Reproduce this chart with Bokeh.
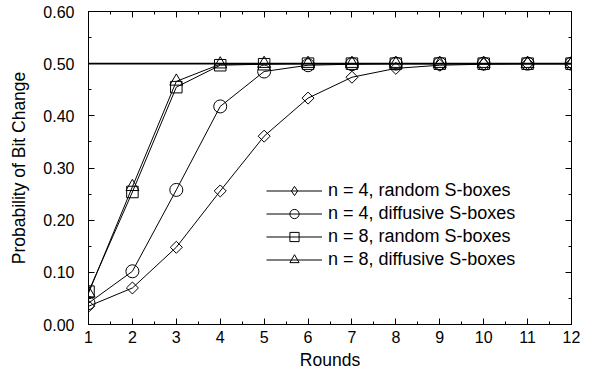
import math
from bokeh.plotting import figure
from bokeh.models import (FixedTicker, LinearAxis, Span, Legend, LegendItem,
                          PrintfTickFormatter, Range1d, ColumnDataSource)
from bokeh.embed import file_html
from bokeh.resources import INLINE

rounds = [1, 2, 3, 4, 5, 6, 7, 8, 9, 10, 11, 12]
n4_random = [0.035, 0.070, 0.148, 0.256, 0.361, 0.434, 0.474, 0.491, 0.497, 0.499, 0.500, 0.500]
n4_diffusive = [0.041, 0.102, 0.258, 0.418, 0.485, 0.497, 0.499, 0.500, 0.500, 0.500, 0.500, 0.500]
n8_random = [0.063, 0.254, 0.455, 0.497, 0.499, 0.500, 0.500, 0.500, 0.500, 0.500, 0.500, 0.500]
n8_diffusive = [0.060, 0.264, 0.466, 0.499, 0.500, 0.500, 0.500, 0.500, 0.500, 0.500, 0.500, 0.500]
labels = ["n = 4, random S-boxes", "n = 4, diffusive S-boxes",
          "n = 8, random S-boxes", "n = 8, diffusive S-boxes"]
y_ticks = [0.0, 0.1, 0.2, 0.3, 0.4, 0.5, 0.6]
y_minor = [0.05, 0.15, 0.25, 0.35, 0.45, 0.55]
x_minor = [r + 0.5 for r in rounds[:-1]]
reference = 0.5

FONT = "Liberation Sans"

p = figure(width=593, height=372, output_backend="svg", toolbar_location=None,
           x_range=Range1d(1, 12), y_range=Range1d(0, 0.6),
           min_border_left=88, min_border_right=22, min_border_top=11,
           min_border_bottom=48)
p.xgrid.visible = False
p.ygrid.visible = False
p.outline_line_color = "black"
p.outline_line_width = 1
p.background_fill_color = "white"
p.border_fill_color = "white"


def style_axis(ax):
    ax.axis_line_color = "black"
    ax.major_tick_line_color = "black"
    ax.minor_tick_line_color = "black"
    ax.major_tick_in = 6
    ax.major_tick_out = 0
    ax.minor_tick_in = 3
    ax.minor_tick_out = 0
    ax.major_label_text_font = FONT
    ax.axis_label_text_font = FONT
    ax.axis_label_text_font_style = "normal"
    ax.major_label_text_color = "black"
    ax.axis_label_text_color = "black"
    ax.major_label_text_font_size = "16px"
    ax.axis_label_text_font_size = "17.5px"


xa = p.xaxis[0]
xa.ticker = FixedTicker(ticks=rounds, minor_ticks=x_minor)
xa.axis_label = "Rounds"
style_axis(xa)
xa.major_label_standoff = 6
xa.axis_label_standoff = 4

ya = p.yaxis[0]
ya.ticker = FixedTicker(ticks=y_ticks, minor_ticks=y_minor)
ya.axis_label = "Probability of Bit Change"
ya.formatter = PrintfTickFormatter(format="%.2f")
style_axis(ya)
ya.major_label_standoff = 14
ya.axis_label_standoff = 11


def tick_only_axis(positions, length, side):
    ax = LinearAxis(ticker=FixedTicker(ticks=[], minor_ticks=positions))
    ax.axis_line_color = "black"
    ax.minor_tick_line_color = "black"
    ax.minor_tick_in = length
    ax.minor_tick_out = 0
    ax.major_tick_in = 0
    ax.major_tick_out = 0
    ax.major_label_standoff = 0
    ax.axis_label_standoff = 0
    p.add_layout(ax, side)


tick_only_axis(rounds, 6, "above")
tick_only_axis(x_minor, 3, "above")
tick_only_axis(y_ticks, 6, "right")
tick_only_axis(y_minor, 3, "right")

p.add_layout(Span(location=reference, dimension="width", line_color="black", line_width=1.6))

series = [n4_random, n4_diffusive, n8_random, n8_diffusive]
markers = ["square", "circle", "square", "triangle"]
legend_markers = ["diamond", "circle", "square", "triangle"]
angles = [math.pi / 4, 0, 0, 0]
sizes = [8.5, 13, 11.5, 13]
items = []
for vals, mk, lmk, ang, sz, lab in zip(series, markers, legend_markers, angles, sizes, labels):
    src = ColumnDataSource(data=dict(x=rounds, y=vals))
    l = p.line("x", "y", source=src, line_color="black", line_width=1)
    s = p.scatter("x", "y", source=src, marker=mk, angle=ang, size=sz,
                  line_color="black", line_width=1, fill_color=None)
    if lmk != mk:
        # legend-only glyph: hidden in the plot, drawn only in the legend
        s = p.scatter("x", "y", source=src, marker=lmk, size=sz,
                      line_color="black", line_width=1, fill_color=None,
                      visible=False)
    items.append(LegendItem(label=lab, renderers=[l, s]))

legend = Legend(items=items, location=(178, 53), glyph_width=56, glyph_height=23,
                label_height=23,
                label_text_font=FONT, label_text_font_size="18px",
                label_standoff=6, spacing=0, padding=0, margin=0,
                border_line_color=None, background_fill_alpha=0,
                label_text_color="black")
p.add_layout(legend, "center")

open("out.html", "w").write(file_html(p, INLINE))
